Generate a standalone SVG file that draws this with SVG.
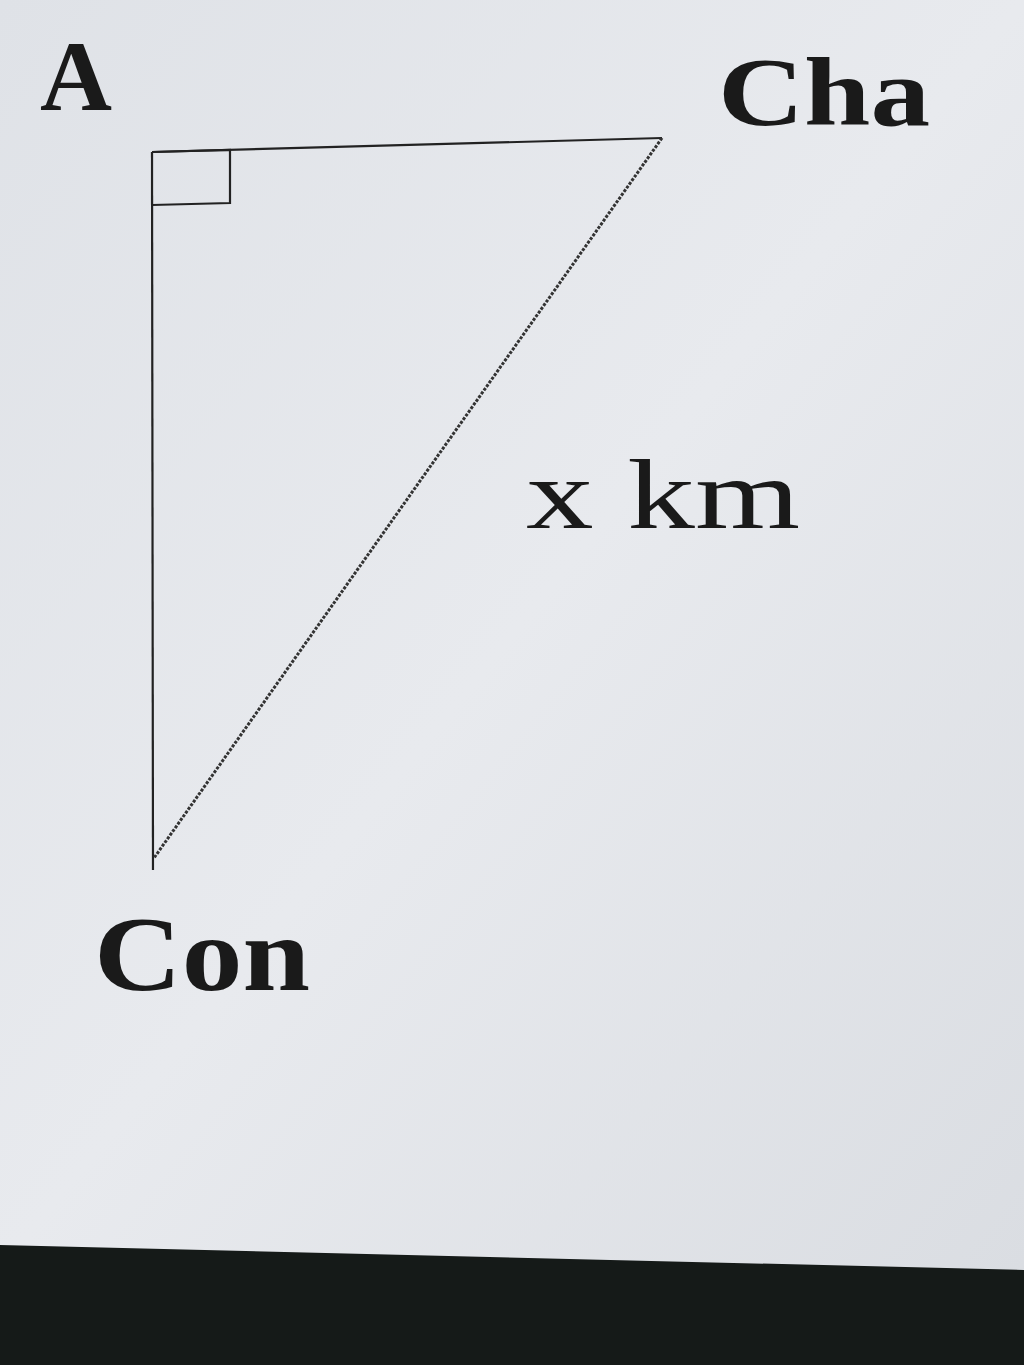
<svg xmlns="http://www.w3.org/2000/svg" width="1024" height="1365" viewBox="0 0 1024 1365">
<defs>
<linearGradient id="paper" x1="0" y1="0" x2="1" y2="1">
<stop offset="0" stop-color="#dfe2e7"/>
<stop offset="0.5" stop-color="#e8eaee"/>
<stop offset="1" stop-color="#dadde2"/>
</linearGradient>
<style>
.lbl{font-family:"Liberation Serif","Times New Roman",serif;fill:#1a1a1a}
.b{font-weight:bold}
.edge{stroke:#222;stroke-width:2.2;fill:none}
.hyp{stroke:#333;stroke-width:3;fill:none;stroke-dasharray:3 1.5}
</style>
</defs>
<rect x="0" y="0" width="1024" height="1365" fill="#151a18"/>
<path d="M0 0 H1024 V1270 L0 1245 Z" fill="url(#paper)"/>
<g id="connectors">
<line class="edge" x1="152" y1="152" x2="662" y2="138"/>
<line class="edge" x1="152" y1="152" x2="153" y2="870"/>
<line class="hyp" x1="662" y1="138" x2="154" y2="858"/>
<polyline class="edge" points="152,152 230,150 230,203 152,205"/>
</g>
<g id="node-A"><text class="lbl b" x="40" y="110" font-size="100" textLength="72" lengthAdjust="spacingAndGlyphs">A</text></g>
<g id="node-Cha"><text class="lbl b" x="718" y="125" font-size="98" textLength="212" lengthAdjust="spacingAndGlyphs">Cha</text></g>
<g id="node-Con"><text class="lbl b" x="94" y="990" font-size="106" textLength="216" lengthAdjust="spacingAndGlyphs">Con</text></g>
<g id="label-xkm"><text class="lbl" x="526" y="528" font-size="100" textLength="274" lengthAdjust="spacingAndGlyphs">x km</text></g>
</svg>
